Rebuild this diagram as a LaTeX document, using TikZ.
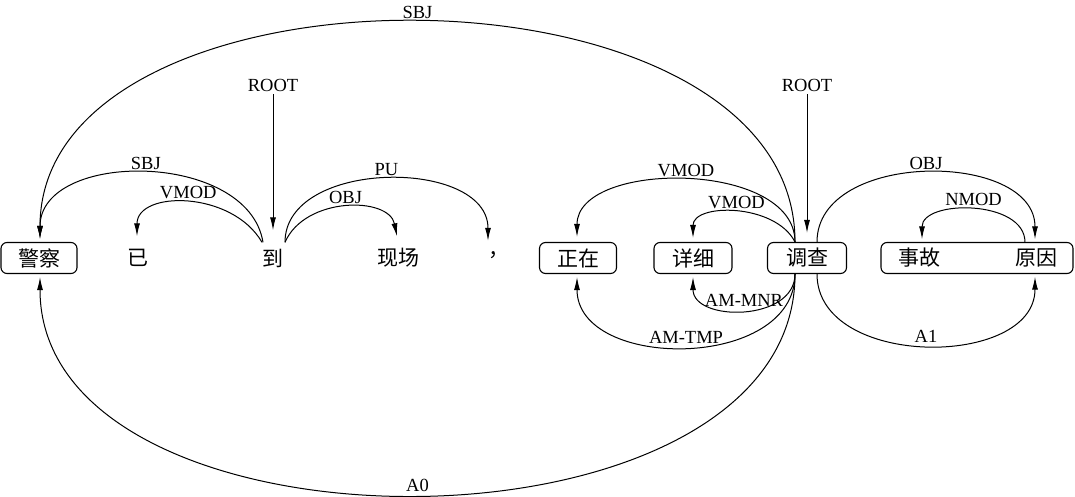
\documentclass[tikz,border=0pt]{standalone}
\usepackage{fontspec}
\setmainfont{Liberation Serif}
\newfontfamily\cjk{Noto Sans CJK SC}
\usetikzlibrary{arrows.meta,calc}
\begin{document}
\begin{tikzpicture}[x=1pt,y=-1pt,
  word/.style={font={\cjk\fontsize{21}{25}\selectfont}, minimum height=31pt, inner sep=0pt},
  wbox/.style={word, draw, rounded corners=6pt, line width=1.1pt, minimum width=#1},
  lab/.style={font={\fontsize{18.5}{22}\selectfont}, inner sep=3pt},
  dep/.style={line width=1pt, -{Latex[length=13pt,width=6pt]}},
]
\useasboundingbox (0,0) rectangle (1075,497);
% words
\node[wbox=76pt] (jc) at (39,258) {警察};
\node[word] (yi) at (138,258) {已};
\node[word] (dao) at (273,258) {到};
\node[word] (xc) at (398,258) {现场};
\node[word] (dou) at (499,255) {，};
\node[wbox=77pt] (zz) at (578,258) {正在};
\node[wbox=78pt] (xx) at (693,258) {详细};
\node[wbox=79pt] (dc) at (807,258) {调查};
\node[wbox=192pt] (sgyy) at (977,258) {};
\node[word] (sg) at (919,258) {事故};
\node[word] (yy) at (1036,258) {原因};
\node[lab] (r1) at (273,85) {ROOT};
\node[lab] (r2) at (807,85) {ROOT};
% root arrows
\draw[dep] (r1) -- ([yshift=12pt]dao.north);
\draw[dep] (r2) -- ([yshift=9pt]dc.north);
% top arcs, left sentence
\draw[dep] ([xshift=-12pt]dc.north) .. controls +(0,-293) and +(0,-290) .. ([xshift=1pt,yshift=3pt]jc.north) node[lab,above,pos=0.5] {SBJ};
\draw[dep] ([xshift=-10pt]dao.north) .. controls +(-15,-92) and +(0,-89) .. ([xshift=1pt,yshift=3pt]jc.north) node[lab,above,pos=0.5] {SBJ};
\draw[dep] ([xshift=-11pt]dao.north) .. controls +(-30,-52) and +(0,-46) .. ([xshift=-1pt,yshift=6pt]yi.north) node[lab,above,pos=0.5] {VMOD};
\draw[dep] ([xshift=12pt]dao.north) .. controls +(20,-46) and +(-8,-40) .. ([xshift=-1pt,yshift=6pt]xc.north) node[lab,above,pos=0.5] {OBJ};
\draw[dep] ([xshift=12pt]dao.north) .. controls +(0,-84) and +(0,-83) .. ([xshift=-11pt,yshift=-1.5pt]dou.north) node[lab,above,pos=0.5] {PU};
% top arcs, right sentence
\draw[dep] ([xshift=-12pt]dc.north) .. controls +(0,-82) and +(0,-77) .. ([xshift=-1pt,yshift=5pt]zz.north) node[lab,above,pos=0.5] {VMOD};
\draw[dep] ([xshift=-12pt]dc.north) .. controls +(-20,-39) and +(0,-35) .. ([yshift=4pt]xx.north) node[lab,above,pos=0.5] {VMOD};
\draw[dep] ([xshift=10pt]dc.north) .. controls +(0,-92) and +(0,-89) .. ([xshift=-1pt,yshift=3pt]yy.north) node[lab,above,pos=0.5] {OBJ};
\draw[dep] ([xshift=-11pt]yy.north) .. controls +(0,-43) and +(0,-40) .. ([xshift=3pt,yshift=3pt]sg.north) node[lab,above,pos=0.5] {NMOD};
% bottom arcs
\draw[dep] ([xshift=-12pt]dc.south) .. controls +(0,48) and +(0,45) .. ([yshift=-3pt]xx.south) node[lab,above,pos=0.5] {AM-MNR};
\draw[dep] ([xshift=-12pt]dc.south) .. controls +(0,97) and +(0,94) .. ([xshift=-1pt,yshift=-3pt]zz.south) node[lab,above,pos=0.5] {AM-TMP};
\draw[dep] ([xshift=-12pt]dc.south) .. controls +(0,294) and +(0,291) .. ([xshift=1pt,yshift=-3pt]jc.south) node[lab,above,pos=0.5] {A0};
\draw[dep] ([xshift=10pt]dc.south) .. controls +(0,95) and +(0,92) .. ([xshift=-1pt,yshift=-3pt]yy.south) node[lab,above,pos=0.5] {A1};
\end{tikzpicture}
\end{document}
